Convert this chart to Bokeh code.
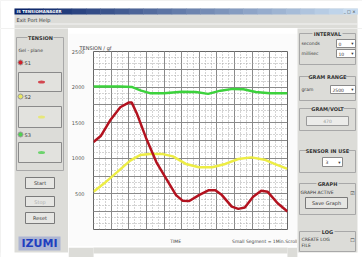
import numpy as np
from bokeh.plotting import figure
from bokeh.layouts import row, column
from bokeh.models import Range1d, FixedTicker
from bokeh.core.properties import value
from bokeh.embed import file_html
from bokeh.resources import INLINE

# ---------------- data ----------------
y_ticks = [500, 1000, 1500, 2000, 2500]
y_tick_labels = ["500", "1000", "1500", "2000", "2500"]
x_label_pos = [4.66, 9.75]
x_labels = ["TIME", "Small Segment = 1Min.Scroll"]

s1_t = [0, 0.41, 0.97, 1.52, 1.99, 2.17, 2.45, 3.01, 3.57, 4.12, 4.68, 5.05, 5.43,
        5.98, 6.54, 6.91, 7.28, 7.84, 8.21, 8.58, 9.05, 9.51, 9.88, 10.44, 11]
s1_gf = [1229, 1312, 1542, 1717, 1782, 1782, 1634, 1266, 944, 714, 483, 405, 400,
         483, 552, 552, 483, 322, 290, 308, 460, 543, 529, 368, 253]

s2_t = [0, 0.59, 1.34, 2.08, 2.64, 3.20, 3.94, 4.50, 5.24, 5.98, 6.73, 7.47, 8.21,
        8.95, 9.70, 10.26, 11]
s2_gf = [530, 645, 806, 967, 1045, 1059, 1059, 1027, 921, 875, 875, 921, 990,
         1013, 981, 921, 852]

s3_t = [0, 1.5, 2.2, 2.7, 3.2, 4.0, 5.0, 5.8, 6.5, 7.2, 7.9, 8.5, 9.2, 10, 11]
s3_gf = [2010, 2010, 2000, 1950, 1915, 1912, 1935, 1930, 1905, 1950, 1975, 1970,
         1930, 1912, 1912]

FONT = value("DejaVu Sans")
BG = "#dcdcd8"
TXT = "#3a3a3a"


def panel(w, h, x0, x1, y0, y1, bg=BG):
    p = figure(width=w, height=h, x_range=Range1d(x0, x1), y_range=Range1d(y1, y0),
               output_backend="svg", toolbar_location=None,
               x_axis_type=None, y_axis_type=None, min_border=0)
    p.outline_line_color = None
    p.background_fill_color = bg
    p.border_fill_color = bg
    return p


def txt(p, x, y, s, size="5px", color=TXT, align="left", bold=False):
    p.text(x=[x], y=[y], text=[s], text_font=FONT, text_font_size=size,
           text_color=color, text_align=align, text_baseline="middle",
           text_font_style="bold" if bold else "normal")


def box(p, l, r, t, b, fill=None, line="#9a9a9a", lw=1):
    p.quad(left=[l], right=[r], top=[t], bottom=[b], fill_color=fill,
           line_color=line, line_width=lw)


def group(p, l, r, t, b, title, tx, tw):
    box(p, l, r, t, b, fill=None, line="#a8a8a8")
    p.quad(left=[tx - tw / 2], right=[tx + tw / 2], top=[t - 3], bottom=[t + 3],
           fill_color=BG, line_color=None)
    txt(p, tx, t, title, size="5px", align="center", bold=True, color="#333333")


def button(p, l, r, t, b, label, color=TXT):
    box(p, l, r, t, b, fill="#e6e6e3", line="#7a7a7a")
    txt(p, (l + r) / 2, (t + b) / 2, label, align="center", color=color)


# ---------------- top: title bar + menu ----------------
top = panel(362, 28, 0, 362, 0, 28)
box(top, 0, 14, 0, 28, fill="white", line=None)
box(top, 357, 362, 0, 28, fill="white", line=None)
box(top, 0, 362, 0, 8, fill="white", line=None)
n = 24
c0 = np.array([10, 36, 106])
c1 = np.array([200, 220, 240])
edges = np.linspace(14, 357, n + 1)
for i in range(n):
    c = c0 + (c1 - c0) * (i / (n - 1))
    top.quad(left=[edges[i]], right=[edges[i + 1] + 0.5], top=[8], bottom=[14],
             fill_color="#%02x%02x%02x" % tuple(int(v) for v in c), line_color=None)
txt(top, 16, 11, "IS TENSIOMANAGER", size="4px", color="white", bold=True)
txt(top, 355, 11, "_ □ ×", size="4px", color="#333", align="right")
txt(top, 16, 19, "Exit   Port   Help", size="5px")
top.segment(x0=[14], x1=[357], y0=[23.5], y1=[23.5], line_color="#f4f4f4", line_width=1)

# ---------------- left panel ----------------
left = panel(68, 229, 0, 68, 28, 257)
box(left, 0, 14, 28, 257, fill="white", line=None)
box(left, 0, 68, 252, 257, fill="white", line=None)
group(left, 16, 63, 37, 170, "TENSION", 40, 26)
txt(left, 18, 50, "Gel - plane", size="4.5px")
dots = [(62, "#d0202a", "S1", 72, 91), (96, "#e8e860", "S2", 106, 127),
        (134, "#50d050", "S3", 142, 162)]
for yy, col, lab, bt, bb in dots:
    left.scatter(x=[20], y=[yy], size=5, fill_color=col, line_color="#999999")
    txt(left, 24, yy, lab, size="5px")
    box(left, 18, 61, bt, bb, fill="#e2e2de", line="#8a8a8a")
    left.ellipse(x=[41], y=[(bt + bb) / 2], width=7, height=3, fill_color=col,
                 line_color=None, fill_alpha=0.8)
button(left, 25, 54, 177, 188, "Start")
button(left, 25, 54, 196, 206, "Stop", color="#b0b0b0")
button(left, 25, 54, 212, 223, "Reset")
left.quad(left=[18], right=[60], top=[236], bottom=[250], fill_color="#1f3fbf",
          line_color=None, fill_alpha=0.25)
txt(left, 39, 243, "IZUMI", size="11px", color="#1f3fbf", align="center", bold=True)

# ---------------- chart ----------------
strip_top = panel(229, 5, 0, 1, 0, 1)
strip_bot = panel(229, 11, 0, 229, 246, 257)
box(strip_bot, 0, 229, 252, 257, fill="white", line=None)

p = figure(width=229, height=213, x_range=Range1d(0, 11), y_range=Range1d(0, 2500),
           output_backend="svg", toolbar_location=None,
           min_border_left=21, min_border_right=10, min_border_top=18,
           min_border_bottom=14)
p.background_fill_color = "white"
p.border_fill_color = "#fbfbfb"
p.outline_line_color = "#666666"
p.outline_line_width = 1

p.title.text = "TENSION / gf"
p.title.text_font = "DejaVu Sans"
p.title.text_font_size = "5px"
p.title.text_font_style = "normal"
p.title.text_color = "#444444"
p.title.align = "left"
p.title.offset = -14
p.title.standoff = 2

p.yaxis.ticker = FixedTicker(ticks=y_ticks)
p.yaxis.major_label_overrides = {t: l for t, l in zip(y_ticks, y_tick_labels)}
p.yaxis.major_label_text_font = "DejaVu Sans"
p.yaxis.major_label_text_font_size = "5px"
p.yaxis.major_label_text_color = "#555555"
p.yaxis.major_tick_line_color = None
p.yaxis.minor_tick_line_color = None
p.yaxis.axis_line_color = None
p.yaxis.major_label_standoff = 3

p.xaxis.ticker = FixedTicker(ticks=x_label_pos)
p.xaxis.major_label_overrides = {t: l for t, l in zip(x_label_pos, x_labels)}
p.xaxis.major_label_text_font = "DejaVu Sans"
p.xaxis.major_label_text_font_size = "4.5px"
p.xaxis.major_label_text_color = "#444444"
p.xaxis.major_label_standoff = 3
p.xaxis.axis_line_color = None
p.xaxis.major_tick_line_color = None
p.xaxis.minor_tick_line_color = None

p.xgrid.ticker = FixedTicker(ticks=list(range(0, 12)),
                             minor_ticks=list(np.arange(0, 11.01, 1 / 3)))
p.ygrid.ticker = FixedTicker(ticks=list(range(0, 2501, 250)),
                             minor_ticks=list(np.arange(0, 2500.1, 250 / 3)))
for g in (p.xgrid, p.ygrid):
    g.grid_line_color = "#8a8a8a"
    g.grid_line_width = 1
    g.minor_grid_line_color = "#a8a8a8"
    g.minor_grid_line_dash = "1 2"
    g.minor_grid_line_width = 1

p.line(s3_t, s3_gf, line_color="#3cd23c", line_width=2.5)
p.line(s2_t, s2_gf, line_color="#eded45", line_width=2.5)
p.line(s1_t, s1_gf, line_color="#b3121f", line_width=2.5)

chart = column(strip_top, p, strip_bot, spacing=0)

# ---------------- right panel ----------------
right = panel(65, 229, 297, 362, 28, 257)
box(right, 357, 362, 28, 257, fill="white", line=None)
box(right, 297, 362, 252, 257, fill="white", line=None)
group(right, 299, 355, 33, 64, "INTERVAL", 327, 30)
txt(right, 301, 43, "seconds", size="4.5px")
box(right, 336, 355, 39, 47, fill="white", line="#8a8a8a")
txt(right, 338, 43, "0", size="4.5px")
txt(right, 352, 43, "▾", size="4.5px", align="center")
txt(right, 301, 53, "millisec", size="4.5px")
box(right, 336, 355, 49, 57, fill="white", line="#8a8a8a")
txt(right, 338, 53, "10", size="4.5px")
txt(right, 352, 53, "▾", size="4.5px", align="center")

group(right, 299, 355, 76, 100, "GRAM RANGE", 327, 36)
txt(right, 301, 89, "gram", size="4.5px")
box(right, 330, 355, 85, 93, fill="white", line="#8a8a8a")
txt(right, 332, 89, "2500", size="4.5px")
txt(right, 352, 89, "▾", size="4.5px", align="center")

group(right, 299, 355, 108, 130, "GRAM/VOLT", 327, 32)
box(right, 306, 348, 116, 125, fill="#ececea", line="#9a9a9a")
txt(right, 327, 120.5, "470", size="4.5px", align="center", color="#9a9a9a")

group(right, 299, 355, 150, 172, "SENSOR IN USE", 327, 42)
box(right, 322, 342, 157, 166, fill="white", line="#8a8a8a")
txt(right, 325, 161.5, "3", size="4.5px")
txt(right, 339, 161.5, "▾", size="4.5px", align="center")

group(right, 299, 355, 183, 214, "GRAPH", 327, 22)
txt(right, 300, 192, "GRAPH ACTIVE", size="4.5px")
txt(right, 352, 192, "☑", size="5px", align="center")
button(right, 305, 347, 197, 208, "Save Graph")

group(right, 299, 355, 231, 251, "LOG", 327, 14)
txt(right, 301, 239, "CREATE LOG", size="4.5px")
txt(right, 301, 245, "FILE", size="4.5px")
txt(right, 352, 239, "☐", size="5px", align="center")

layout = column(top, row(left, chart, right, spacing=0), spacing=0)

open("out.html", "w").write(file_html(layout, INLINE))
